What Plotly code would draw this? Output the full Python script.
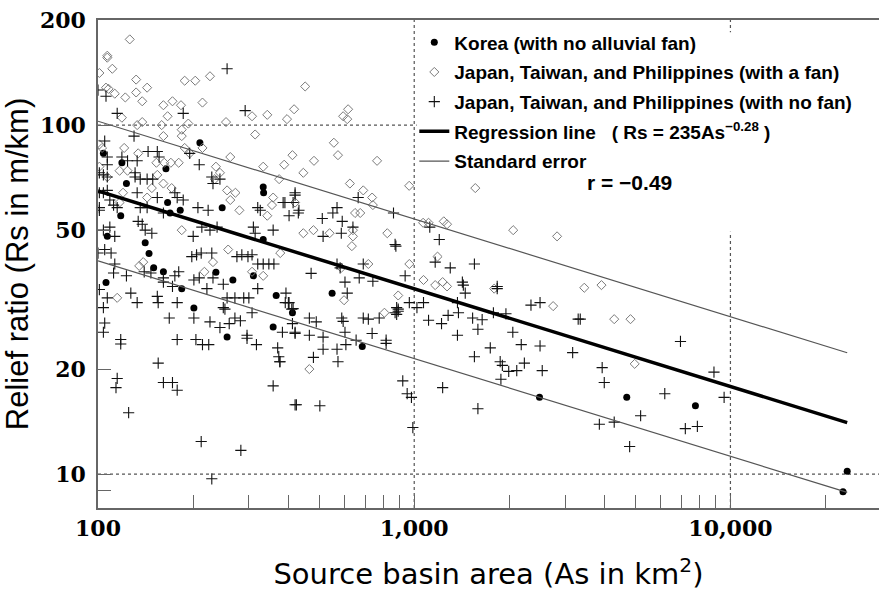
import numpy as np
import plotly.graph_objects as go

# Korea (no alluvial fan): basin area (km2), relief ratio (m/km)
korea_area = [210, 104, 119, 164, 123, 166, 169, 182, 247, 118, 333, 334, 333, 107, 141,
              106, 145, 150, 161, 184, 236, 267, 310, 201, 256, 358, 366, 412,
              550, 685, 2490, 4700, 7750, 23400, 22700]
korea_rs = [89, 83, 78, 75, 68, 60, 56, 57, 58, 55, 66.5, 64, 47, 48, 46,
            35.4, 42.9, 39, 38, 34, 37.9, 36, 37, 29.9, 24.7, 26.4, 32.5, 29,
            33, 23.2, 16.6, 16.6, 15.7, 10.2, 8.9]

# Japan, Taiwan, Philippines - basins with a fan
fan_area = [126, 107, 107, 111, 101, 132, 143, 106, 108, 113, 122, 132, 138, 188, 203, 226,
            161, 172, 183, 214, 417, 119, 138, 159, 166, 184, 193, 254, 314, 343, 396, 307,
            133, 101, 103, 121, 134, 161, 184, 188, 195, 214, 262, 333, 388, 412, 374, 117,
            124, 101, 107, 153, 162, 170, 180, 154, 161, 171, 236, 243, 234, 256, 272, 262,
            280, 343, 358, 355, 420, 148, 143, 117, 120, 184, 258,
            115, 135, 139, 217, 231, 307, 333, 377,
            452, 618, 596, 614, 557, 482, 574, 446, 763, 626, 690, 736, 740, 650, 675, 964,
            1560, 1067, 1110, 1240, 1270, 2056, 2830, 480, 446, 540, 822, 640, 640, 635,
            1185, 588, 716, 965, 1070, 1165, 1230, 1270, 1790, 2750, 600, 890, 805, 466,
            3450, 3910, 4290, 4830, 4980]
fan_rs = [176, 158, 156, 145, 141, 135, 128, 128, 127, 123, 120, 124, 117, 134, 134, 138,
          114, 117, 114, 116, 111, 105, 102, 100, 106, 97, 101, 102, 94, 107, 104, 106,
          100, 88, 86, 86, 83, 93, 93, 86, 83, 86, 81, 76, 77, 82, 70, 74,
          74, 76, 71, 78, 78, 78, 78, 72, 68, 66, 76, 73, 70, 65, 64, 61,
          57, 55, 62, 59, 60, 66, 62, 60, 64, 50, 44,
          32, 39.5, 40.5, 38, 40.5, 38, 37, 43,
          129, 111, 106, 104, 89, 79, 82, 73, 79, 68, 65, 62, 59, 56, 56, 67,
          66, 52.5, 52.5, 53, 52, 50, 48, 50, 49, 49, 49, 50, 48, 45,
          42, 39, 40, 40, 36, 34.8, 35.5, 34.5, 34, 30.3, 31.5, 32.5, 29, 20,
          34.2, 34.8, 27.8, 27.8, 20.7]

# Japan, Taiwan, Philippines - basins with no fan
nofan_area = [256, 100, 106, 115, 130, 186, 292, 105, 107, 107, 119, 124, 133, 144, 154, 156,
              131, 131, 136, 143, 149, 209, 229, 243, 195, 101, 104, 107, 101, 104, 107, 109,
              112, 115, 101, 101, 133, 136, 143, 154, 161, 175, 178, 186, 207, 223, 231, 320,
              326, 385, 420, 430, 104, 109, 113, 134, 138, 141, 148, 213, 226, 238, 200, 310,
              314, 358,
              100, 105, 110, 113, 112, 123, 101, 107, 104, 127, 133, 154, 155, 105, 104, 118,
              118, 115, 114, 125, 155, 161, 172, 178, 168, 178, 178, 201, 204, 214, 224, 226,
              243, 249, 252, 260, 271, 282, 296, 296, 317, 307, 320, 370, 373, 376, 358, 400,
              410, 420, 212, 283, 229, 420, 175, 180, 172, 201, 209, 221, 231, 249, 256, 271,
              289, 300, 320, 333, 347, 360, 391, 393, 161, 161, 140, 147, 198, 205, 212, 229,
              275, 285, 298, 307,
              420, 390, 414, 432, 402, 512, 553, 570, 592, 640, 588, 515, 665, 860, 870, 875,
              1120, 1200,
              472, 570, 583, 690, 670, 740, 604, 614, 936, 1165, 1300, 1550, 1420, 1430, 1450,
              1830, 1830, 1370, 1070, 1020, 965, 880, 870, 890, 1110, 1220, 1280, 1380, 1530,
              1640, 1370, 1590, 1780, 1950, 2340, 2500, 2050, 2180, 2500, 2230, 1740, 1550,
              1870, 1900, 1990, 2110, 2540, 1880, 1230, 1590, 920, 950, 980, 990, 3170, 3300,
              424, 503, 402, 414, 383, 420, 412, 466, 490, 466, 515, 515, 480, 570, 574, 608,
              590, 596, 604, 690, 716, 775, 736, 655, 815, 815, 880, 890, 376,
              3350, 6950, 3930, 3990, 8870, 9550, 6200, 5200, 3850, 4290, 4800, 7200, 7860]
nofan_rs = [145, 126, 121, 108, 93, 108, 110, 90, 81, 77, 81, 79, 79, 84, 84, 81,
            73, 71, 70, 70, 70, 77, 71, 70, 83, 73, 72, 71, 64, 64, 65, 61,
            59, 58, 58, 57, 64, 58, 58, 62, 56, 64, 62, 61, 58, 57, 68, 58,
            57, 60, 64, 56, 50, 51, 48, 53, 52, 50, 49, 51, 50, 51, 48, 51,
            49, 50,
            43, 44, 43, 40, 37.7, 37, 33.8, 32, 30, 33, 31, 32.3, 31, 27.1, 25.5, 24.3,
            23.6, 18.8, 17.7, 15, 20.8, 18.3, 18.3, 17.4, 28, 31, 24.3, 28, 24.3, 23.5, 23.5, 27.3,
            26.3, 30, 29.7, 27, 28, 27.5, 25, 24.5, 23.5, 29, 34, 23, 21.7, 21, 17.9, 31,
            29.7, 25.5, 12.4, 11.7, 9.7, 15.8, 37, 38, 34.5, 36, 36.5, 34, 36.5, 35, 32, 32,
            32, 32, 40, 40, 40, 40, 31, 33, 35.5, 36.5, 38, 37.7, 42, 42.5, 43, 43,
            42, 42.5, 42, 42.5,
            63, 60, 60, 57, 55, 54, 56, 58, 53, 51, 49, 48, 62, 56, 45.5, 45,
            51, 47,
            37.6, 40, 39, 40, 36.5, 35.7, 35.5, 33, 37, 40.5, 39, 40, 35.5, 34.8, 33,
            34.5, 34, 31, 31, 30, 31, 30, 29, 29.3, 27.6, 27, 28.5, 29, 28,
            27.7, 25, 26, 29, 28.8, 30.5, 31, 25.5, 23.5, 23.3, 20.8, 23, 21.7,
            21, 20.5, 19.7, 19.8, 19.8, 18.7, 17.7, 15.4, 18.5, 17, 16.6, 13.6, 22.3, 27.8,
            15.8, 15.7, 31, 29.8, 25.5, 25.3, 27, 28, 27.3, 25, 24.7, 22.8, 21.6, 22.8, 21, 23.5,
            28, 27.4, 25.5, 28, 27.8, 28, 25.3, 24.2, 24.2, 23.7, 28.7, 29.7, 21,
            27.8, 24, 20.2, 18.3, 19.6, 16.6, 17, 14.7, 13.9, 14.1, 12, 13.5, 13.7]

# Regression Rs = 235 * As^-0.28 and its standard error band (log10 units)
REG_COEF = 235
REG_EXP = -0.28
SE_LOG = 0.2
R_VALUE = -0.49

all_area = korea_area + fan_area + nofan_area
line_area = np.array([100, max(all_area)], dtype=float)
reg_rs = REG_COEF * line_area ** REG_EXP
se_hi = reg_rs * 10 ** SE_LOG
se_lo = reg_rs * 10 ** -SE_LOG

fig = go.Figure()

fig.add_trace(go.Scatter(
    x=korea_area, y=korea_rs, mode="markers", name="Korea (with no alluvial fan)",
    legendgroup="a",
    marker=dict(symbol="circle", size=7, color="black")))
fig.add_trace(go.Scatter(
    x=fan_area, y=fan_rs, mode="markers",
    name="Japan, Taiwan, and Philippines (with a fan)", legendgroup="b",
    marker=dict(symbol="diamond-open", size=7, color="#7a7a7a", line=dict(width=1))))
fig.add_trace(go.Scatter(
    x=nofan_area, y=nofan_rs, mode="markers",
    name="Japan, Taiwan, and Philippines (with no fan)", legendgroup="c",
    marker=dict(symbol="cross-thin-open", size=8, color="#111", line=dict(width=1.1, color="#111"))))
fig.add_trace(go.Scatter(
    x=line_area, y=reg_rs, mode="lines", legendgroup="d",
    name="Regression line\u00a0\u00a0 (\u00a0Rs = %dAs<sup>%s</sup>\u00a0)"
         % (REG_COEF, ("%.2f" % REG_EXP).replace("-", "\u2212")),
    line=dict(color="black", width=3.5)))
fig.add_trace(go.Scatter(
    x=line_area, y=se_hi, mode="lines", name="Standard error", legendgroup="e",
    line=dict(color="#555", width=1.2)))
fig.add_trace(go.Scatter(
    x=line_area, y=se_lo, mode="lines", showlegend=False, legendgroup="e",
    line=dict(color="#555", width=1.2)))

dot = dict(color="#555", width=1.2, dash="dot")
shapes = [
    dict(type="line", xref="x", yref="paper", x0=1000, x1=1000, y0=0, y1=1, line=dot, layer="below"),
    dict(type="line", xref="x", yref="paper", x0=10000, x1=10000, y0=0, y1=1, line=dot, layer="below"),
    dict(type="line", xref="paper", yref="y", x0=0, x1=1, y0=10, y1=10, line=dot, layer="below"),
    dict(type="line", xref="paper", yref="y", x0=0, x1=1, y0=100, y1=100, line=dot, layer="below"),
    # blank panel behind the legend
    dict(type="rect", xref="paper", yref="paper", x0=0.408, x1=1.0, y0=0.566, y1=0.975,
         fillcolor="white", line=dict(width=0), layer="below"),
]

x_ticks = [100, 200, 300, 400, 500, 600, 700, 800, 900,
           1000, 2000, 3000, 4000, 5000, 6000, 7000, 8000, 9000, 10000, 20000]
x_text = ["100"] + [""] * 8 + ["1,000"] + [""] * 8 + ["10,000", ""]
y_ticks = [9, 10, 20, 50, 100, 200]
y_text = ["", "10", "20", "50", "100", "200"]

tickfont = dict(family="DejaVu Serif", size=22, color="black", weight="bold")
legfont = dict(family="Liberation Sans", size=19, color="black", weight="bold")

fig.update_layout(
    width=879, height=593,
    margin=dict(l=98, r=0, t=20, b=85),
    plot_bgcolor="white", paper_bgcolor="white",
    shapes=shapes,
    showlegend=True,
    legend=dict(x=0.405, y=0.993, xanchor="left", yanchor="top",
                bgcolor="rgba(0,0,0,0)", tracegroupgap=2, itemwidth=30,
                font=legfont),
    annotations=[dict(xref="paper", yref="paper", x=0.737, y=0.666,
                      text="r = %s" % ("%.2f" % R_VALUE).replace("-", "\u2212"),
                      showarrow=False,
                      font=dict(family="Liberation Sans", size=21, color="black", weight="bold"))],
    xaxis=dict(type="log", range=[2, np.log10(29500)],
               tickvals=x_ticks, ticktext=x_text, ticks="inside", ticklen=13,
               tickcolor="#666", tickwidth=1.2,
               showline=True, linecolor="#666", linewidth=1.5, mirror=True,
               showgrid=False, zeroline=False, tickfont=tickfont,
               title=dict(text="Source basin area (As in km<sup>2</sup>)", standoff=24,
                          font=dict(family="DejaVu Sans", size=29, color="black"))),
    yaxis=dict(type="log", range=[np.log10(8.0), np.log10(200)],
               tickvals=y_ticks, ticktext=y_text, ticks="inside", ticklen=13,
               tickcolor="#666", tickwidth=1.2, ticklabelstandoff=6,
               showline=True, linecolor="#666", linewidth=1.5,
               showgrid=False, zeroline=False, tickfont=tickfont,
               title=dict(text="Relief ratio (Rs in m/km)", standoff=6,
                          font=dict(family="Liberation Sans", size=31, color="black"))),
)

fig.write_html("out.html")
